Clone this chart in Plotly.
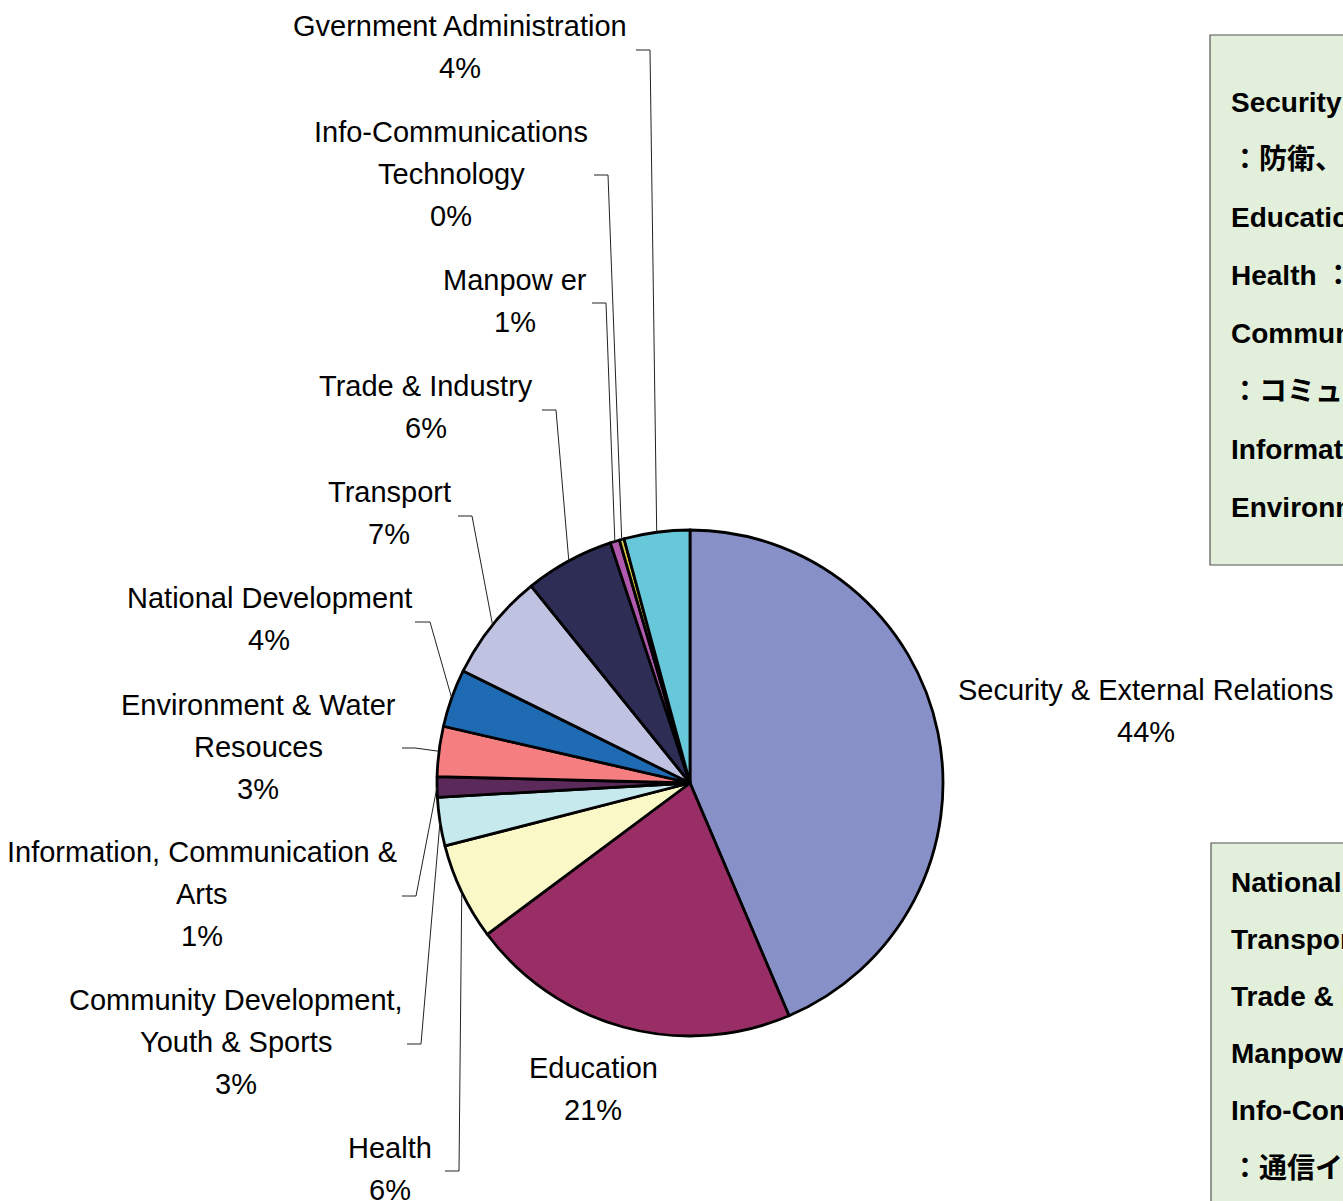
import math
import plotly.graph_objects as go

W, H = 1343, 1201

# ---------------- data ----------------
categories = [
    "Security & External Relations",
    "Education",
    "Health",
    "Community Development, Youth & Sports",
    "Information, Communication & Arts",
    "Environment & Water Resouces",
    "National Development",
    "Transport",
    "Trade & Industry",
    "Manpow er",
    "Info-Communications Technology",
    "Gvernment Administration",
]
values = [43.6, 21.2, 6.2, 3.1, 1.3, 3.2, 3.7, 6.9, 5.7, 0.6, 0.3, 4.2]
colors = [
    "#8890c8", "#992d66", "#fbf8c8", "#c6e9ed", "#5b2a5b", "#f47e80",
    "#1e6bb4", "#c0c2e2", "#2e2d55", "#b05aae", "#d8c840", "#66c8d8",
]
# wrapped display lines for each category label
label_lines = [
    ["Security & External Relations"],
    ["Education"],
    ["Health"],
    ["Community Development,", "Youth & Sports"],
    ["Information, Communication &", "Arts"],
    ["Environment & Water", "Resouces"],
    ["National Development"],
    ["Transport"],
    ["Trade & Industry"],
    ["Manpow er"],
    ["Info-Communications", "Technology"],
    ["Gvernment Administration"],
]
box1_lines = [
    "Security & External Relations",
    "：防衛、外交",
    "Education：教育",
    "Health ：保健",
    "Community Development, Youth & Sports",
    "：コミュニティ開発・青年・スポーツ",
    "Information, Communication & Arts：情報・通信・芸術",
    "Environment & Water Resources：環境・水資源",
]
box2_lines = [
    "National Development：国家開発",
    "Transport：運輸",
    "Trade & Industry：貿易・産業",
    "Manpower：人材",
    "Info-Communications Technology",
    "：通信インフラ",
]

# ---------------- layout (pixels) ----------------
CX, CY, R = 690, 783, 253
LINE_H = 42
# label center x and first-line center y
label_pos = [
    (1146, 690), (593, 1068), (390, 1148), (236, 1000), (202, 852),
    (258, 705), (269, 598), (389, 492), (426, 386), (515, 280),
    (451, 132), (460, 26),
]
# leader stubs: (x_start, x_end, y) or None
leaders = [
    None, None, (445, 459, 1171), (407, 421, 1044), (402, 416, 896),
    (402, 415, 748), (415, 430, 622), (458, 472, 516), (542, 556, 410),
    (592, 606, 303), (594, 608, 175), (636, 650, 50),
]

FONT = "Liberation Sans, Arial, Noto Sans CJK JP, sans-serif"


def px(x):
    return x / W


def py(y):
    return 1 - y / H


fig = go.Figure()
fig.add_trace(go.Pie(
    labels=categories,
    values=values,
    sort=False,
    direction="clockwise",
    rotation=0,
    textinfo="none",
    hoverinfo="label+percent",
    marker=dict(colors=colors, line=dict(color="black", width=2.8)),
    domain=dict(x=[px(CX - R), px(CX + R)], y=[py(CY + R), py(CY - R)]),
    showlegend=False,
))

total = sum(values)
shapes = []
annotations = []
cum = 0.0
for i, v in enumerate(values):
    mid = (cum + v / 2) / total * 2 * math.pi
    cum += v
    ax = CX + R * math.sin(mid)
    ay = CY - R * math.cos(mid)
    lx, ly = label_pos[i]
    lines = label_lines[i] + [f"{round(v / total * 100)}%"]
    for k, t in enumerate(lines):
        annotations.append(dict(
            x=px(lx), y=py(ly + k * LINE_H), xref="paper", yref="paper",
            text=t, showarrow=False, xanchor="center", yanchor="middle",
            font=dict(family=FONT, size=29, color="black"),
        ))
    if leaders[i] is not None:
        xs, xe, yy = leaders[i]
        path = f"M {px(xs)} {py(yy)} L {px(xe)} {py(yy)} L {px(ax)} {py(ay)}"
        shapes.append(dict(type="path", xref="paper", yref="paper", path=path,
                           line=dict(color="#222222", width=1)))

# right-hand boxes
shapes.append(dict(type="rect", xref="paper", yref="paper",
                   x0=px(1210), x1=px(1380), y0=py(565), y1=py(35),
                   fillcolor="#e2efdb", line=dict(color="#555555", width=1.2),
                   layer="below"))
shapes.append(dict(type="rect", xref="paper", yref="paper",
                   x0=px(1211), x1=px(1380), y0=py(1230), y1=py(843),
                   fillcolor="#e2efdb", line=dict(color="#555555", width=1.2),
                   layer="below"))
for k, t in enumerate(box1_lines):
    annotations.append(dict(
        x=px(1229), y=py(102 + k * 57.9), xref="paper", yref="paper",
        text=f"<b>{t}</b>", showarrow=False, xanchor="left", yanchor="middle",
        font=dict(family=FONT, size=28, color="black"),
    ))
for k, t in enumerate(box2_lines):
    annotations.append(dict(
        x=px(1229), y=py(882 + k * 57.2), xref="paper", yref="paper",
        text=f"<b>{t}</b>", showarrow=False, xanchor="left", yanchor="middle",
        font=dict(family=FONT, size=28, color="black"),
    ))

fig.update_layout(
    width=W, height=H,
    margin=dict(l=0, r=0, t=0, b=0),
    paper_bgcolor="white", plot_bgcolor="white",
    shapes=shapes, annotations=annotations,
    font=dict(family=FONT),
)
fig.write_html(
    "out.html",
    config={"displayModeBar": False},
    post_script="document.body.style.margin='0px';document.body.style.overflow='hidden';",
)
